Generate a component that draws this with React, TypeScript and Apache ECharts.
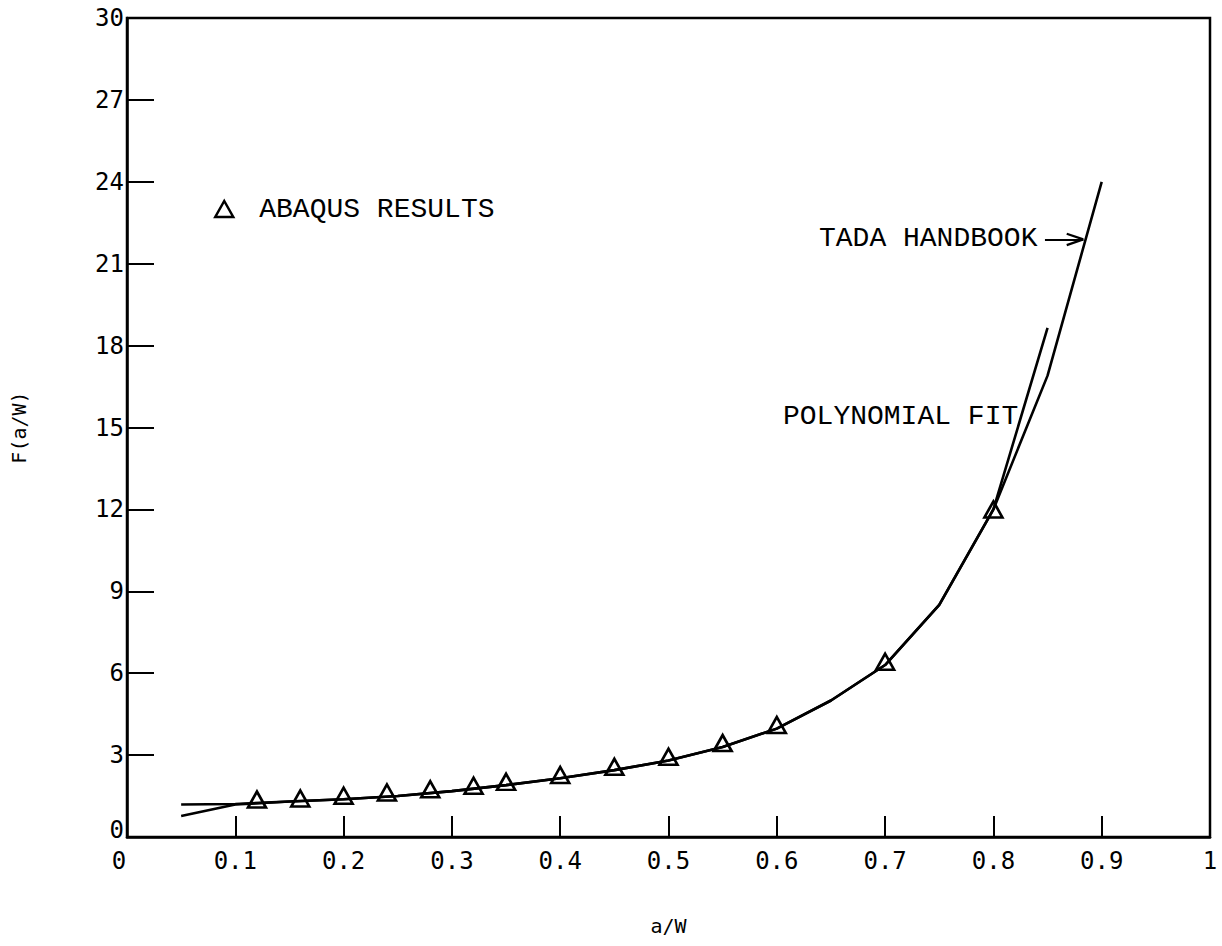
import React, { useEffect, useRef } from "react";
import * as echarts from "echarts";

// ABAQUS finite element results: crack ratio a/W and geometry factor F(a/W)
const abaqusAW = [0.12, 0.16, 0.2, 0.24, 0.28, 0.32, 0.35, 0.4, 0.45, 0.5, 0.55, 0.6, 0.7, 0.8];
const abaqusF = [1.37, 1.41, 1.51, 1.63, 1.75, 1.88, 2.02, 2.27, 2.57, 2.94, 3.44, 4.1, 6.42, 12.0];

// Tada handbook curve
const tadaAW = [0.05, 0.1, 0.15, 0.2, 0.25, 0.3, 0.35, 0.4, 0.45, 0.5, 0.55, 0.6, 0.65, 0.7, 0.75, 0.8, 0.85, 0.9];
const tadaF = [1.19, 1.21, 1.3, 1.38, 1.5, 1.68, 1.9, 2.15, 2.45, 2.8, 3.3, 3.97, 5.0, 6.3, 8.5, 12.0, 16.9, 24.0];

// Polynomial fit through the ABAQUS results
const polyAW = [0.05, 0.1, 0.15, 0.2, 0.25, 0.3, 0.35, 0.4, 0.45, 0.5, 0.55, 0.6, 0.65, 0.7, 0.75, 0.8, 0.85];
const polyF = [0.77, 1.19, 1.3, 1.38, 1.5, 1.68, 1.9, 2.15, 2.45, 2.8, 3.3, 3.97, 5.0, 6.3, 8.5, 12.0, 18.65];

// Arrow pointing at the Tada curve: shaft and the two strokes of its head
const arrowShaft = [[0.8476, 21.89], [0.883, 21.89]];
const arrowHeadUpper = [[0.8677, 22.1], [0.883, 21.89]];
const arrowHeadLower = [[0.8677, 21.68], [0.883, 21.89]];

const X_MIN = 0;
const X_MAX = 1;
const X_STEP = 0.1;
const Y_MIN = 0;
const Y_MAX = 30;
const Y_STEP = 3;

const pair = (xs: number[], ys: number[]) => xs.map((x, i) => [x, ys[i]]);

const TICK_FONT = "'DejaVu Sans Mono', monospace";
const TYPE_FONT = "'Liberation Mono', 'Courier New', monospace";
const TYPE_SIZE = 28;

export default function App() {
  const ref = useRef<HTMLDivElement>(null);

  useEffect(() => {
    document.body.style.margin = "0";
    if (!ref.current) return;
    const chart = echarts.init(ref.current, undefined, { renderer: "svg" });

    const lineStyle = { color: "#000", width: 2.6 };
    const segment = (pts: number[][]) => [
      { coord: pts[0], symbol: "none" },
      { coord: pts[1], symbol: "none" },
    ];

    chart.setOption({
      animation: false,
      backgroundColor: "#fff",
      grid: {
        left: 127,
        right: 12,
        top: 18,
        bottom: 109,
        show: true,
        borderColor: "#000",
        borderWidth: 2.5,
        backgroundColor: "transparent",
      },
      legend: {
        data: ["ABAQUS RESULTS"],
        left: 214,
        top: 195,
        padding: 0,
        itemWidth: 18,
        itemHeight: 16,
        itemStyle: { color: "transparent", borderColor: "#000", borderWidth: 2.5, opacity: 1 },
        textStyle: {
          fontFamily: TYPE_FONT,
          fontSize: TYPE_SIZE,
          color: "#000",
          padding: [0, 0, 0, 21],
        },
        selectedMode: false,
      },
      xAxis: {
        type: "value",
        min: X_MIN,
        max: X_MAX,
        interval: X_STEP,
        name: "a/W",
        nameLocation: "middle",
        nameGap: 79,
        nameTextStyle: { fontFamily: TICK_FONT, fontSize: 20, color: "#000" },
        axisLine: { show: true, onZero: false, lineStyle: { color: "#000", width: 2.5 } },
        axisTick: { show: true, inside: true, length: 21, lineStyle: { color: "#000", width: 2 } },
        splitLine: { show: false },
        axisLabel: {
          margin: 12,
          fontFamily: TICK_FONT,
          fontSize: 24,
          color: "#000",
          formatter: (v: number) =>
            v === 0 ? "{z|0}" : v === 1 ? "1" : v.toFixed(1),
          rich: {
            z: { fontFamily: TICK_FONT, fontSize: 24, color: "#000", padding: [0, 16, 0, 0] },
          },
        },
      },
      yAxis: {
        type: "value",
        min: Y_MIN,
        max: Y_MAX,
        interval: Y_STEP,
        name: "F(a/W)",
        nameLocation: "middle",
        nameGap: 98,
        nameRotate: 90,
        nameTextStyle: { fontFamily: TICK_FONT, fontSize: 20, color: "#000" },
        axisLine: { show: true, onZero: false, lineStyle: { color: "#000", width: 2.5 } },
        axisTick: { show: true, inside: true, length: 27, lineStyle: { color: "#000", width: 2 } },
        splitLine: { show: false },
        axisLabel: {
          margin: 3,
          fontFamily: TICK_FONT,
          fontSize: 24,
          color: "#000",
          formatter: (v: number) => (v === 0 ? "{z|0}" : String(v)),
          rich: {
            z: { fontFamily: TICK_FONT, fontSize: 24, color: "#000", padding: [0, 0, 14, 0] },
          },
        },
      },
      series: [
        {
          name: "TADA HANDBOOK",
          type: "line",
          data: pair(tadaAW, tadaF),
          showSymbol: false,
          lineStyle,
          z: 2,
          markLine: {
            silent: true,
            symbol: "none",
            label: { show: false },
            lineStyle: { color: "#000", width: 2.2, type: "solid", opacity: 1 },
            data: [segment(arrowShaft), segment(arrowHeadUpper), segment(arrowHeadLower)],
          },
        },
        {
          name: "POLYNOMIAL FIT",
          type: "line",
          data: pair(polyAW, polyF),
          showSymbol: false,
          lineStyle,
          z: 2,
        },
        {
          name: "ABAQUS RESULTS",
          type: "scatter",
          data: pair(abaqusAW, abaqusF),
          symbol: "triangle",
          symbolSize: [18, 16],
          itemStyle: { color: "transparent", borderColor: "#000", borderWidth: 2.6, opacity: 1 },
          z: 3,
        },
      ],
      graphic: [
        {
          type: "text",
          x: 819,
          y: 238,
          style: {
            text: "TADA HANDBOOK",
            fontFamily: TYPE_FONT,
            fontSize: TYPE_SIZE,
            fill: "#000",
            align: "left",
            verticalAlign: "middle",
          },
        },
        {
          type: "text",
          x: 783,
          y: 416,
          style: {
            text: "POLYNOMIAL FIT",
            fontFamily: TYPE_FONT,
            fontSize: TYPE_SIZE,
            fill: "#000",
            align: "left",
            verticalAlign: "middle",
          },
        },
      ],
    });

    return () => chart.dispose();
  }, []);

  return <div ref={ref} style={{ width: 1222, height: 946 }} />;
}
